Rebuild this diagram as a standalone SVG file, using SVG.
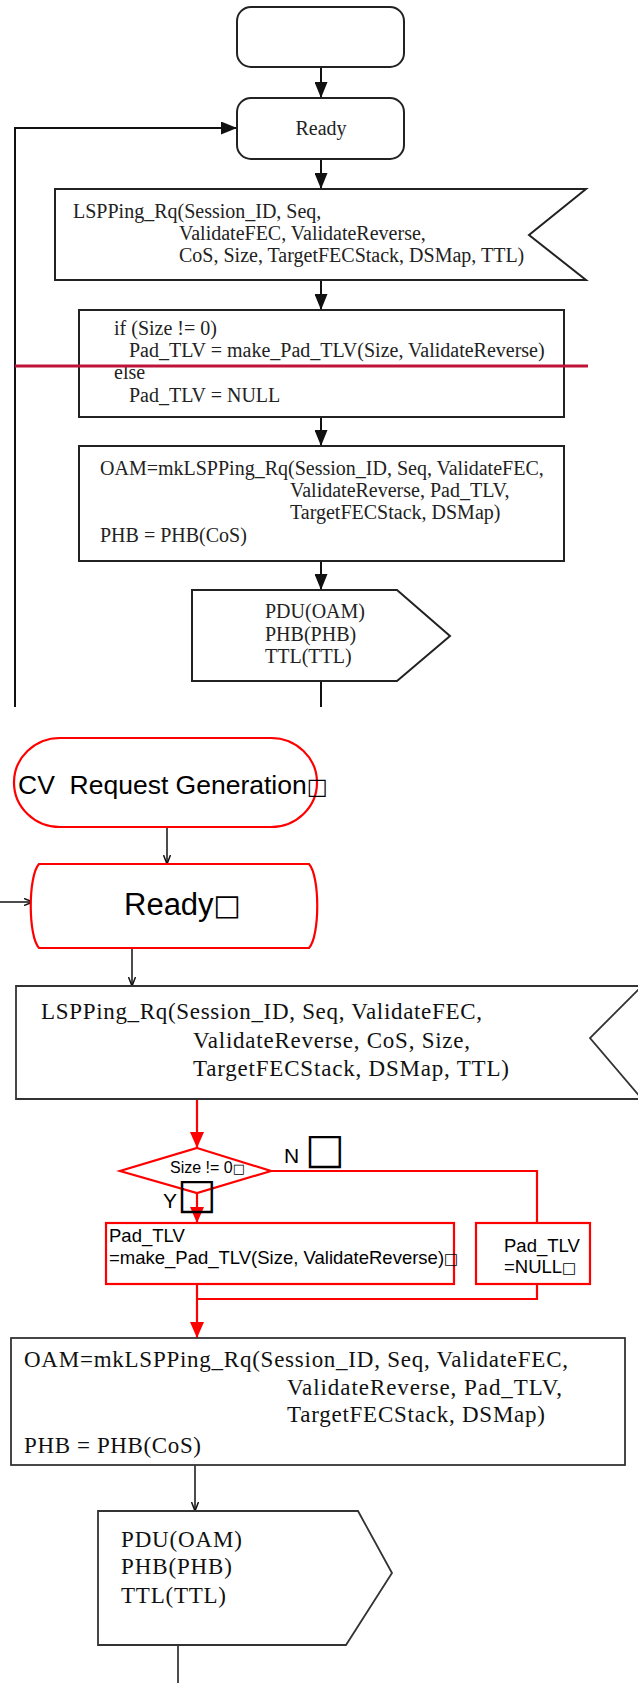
<svg xmlns="http://www.w3.org/2000/svg" width="638" height="1683" viewBox="0 0 638 1683">
<style>
.bk{fill:#fff;stroke:#222;stroke-width:2}
.bk2{fill:#fff;stroke:#333;stroke-width:1.8}
.rd{fill:#fff;stroke:#f00;stroke-width:2.2}
.ln{fill:none;stroke:#111;stroke-width:2}
.lt{fill:none;stroke:#111;stroke-width:1.5}
.lr{fill:none;stroke:#f00;stroke-width:2.2}
.t1{font-family:"Liberation Serif","Times New Roman",serif;font-size:20px;fill:#222}
.t2{font-family:"Liberation Serif","Times New Roman",serif;font-size:23px;fill:#111}
.s{font-family:"Liberation Sans",Arial,sans-serif;fill:#000;white-space:pre}
.sq{font-family:"DejaVu Sans",sans-serif}
</style>
<defs>
<marker id="ab" markerUnits="userSpaceOnUse" markerWidth="16" markerHeight="13" viewBox="0 0 16 13" refX="16" refY="6.5" orient="auto"><path d="M0,0 L16,6.5 L0,13 Z" fill="#111"/></marker>
<marker id="ar" markerUnits="userSpaceOnUse" markerWidth="16" markerHeight="14" viewBox="0 0 16 14" refX="16" refY="7" orient="auto"><path d="M0,0 L16,7 L0,14 Z" fill="#f00"/></marker>
<marker id="at" markerUnits="userSpaceOnUse" markerWidth="9" markerHeight="8" viewBox="0 0 9 8" refX="9" refY="4" orient="auto"><path d="M0,0.5 L9,4 L0,7.5" fill="none" stroke="#111" stroke-width="1.5"/></marker>
</defs>

<g id="connectors">
<line class="ln" x1="321" y1="67" x2="321" y2="98" marker-end="url(#ab)"/>
<line class="ln" x1="321" y1="159" x2="321" y2="189" marker-end="url(#ab)"/>
<line class="ln" x1="321" y1="280" x2="321" y2="310" marker-end="url(#ab)"/>
<line class="ln" x1="321" y1="417" x2="321" y2="446" marker-end="url(#ab)"/>
<line class="ln" x1="321" y1="561" x2="321" y2="590" marker-end="url(#ab)"/>
<line class="ln" x1="321" y1="681" x2="321" y2="707"/>
<polyline class="ln" points="15,707 15,128 237,128" marker-end="url(#ab)"/>

<line class="lt" x1="167" y1="827" x2="167" y2="864" marker-end="url(#at)"/>
<line class="lt" x1="0" y1="902" x2="33" y2="902" marker-end="url(#at)"/>
<line class="lt" x1="132" y1="948" x2="132" y2="986" marker-end="url(#at)"/>
<line class="lr" x1="197" y1="1099" x2="197" y2="1148" marker-end="url(#ar)"/>
<line class="lr" x1="197" y1="1193" x2="197" y2="1223" marker-end="url(#ar)"/>
<polyline class="lr" points="271,1171 537,1171 537,1223"/>
<line class="lr" x1="197" y1="1284" x2="197" y2="1338" marker-end="url(#ar)"/>
<polyline class="lr" points="537,1284 537,1299 197,1299"/>
<line class="lt" x1="195" y1="1465" x2="195" y2="1511" marker-end="url(#at)"/>
<line class="lt" x1="178" y1="1645" x2="178" y2="1683"/>
</g>

<g id="start1"><rect class="bk" x="237" y="7" width="167" height="60" rx="14"/></g>
<g id="ready1"><rect class="bk" x="237" y="98" width="167" height="61" rx="14"/>
<text class="t1" x="321" y="135" text-anchor="middle">Ready</text></g>
<g id="rq1"><polygon class="bk" points="55,189 586,189 529,235 586,280 55,280"/>
<text class="t1" x="73" y="218">LSPPing_Rq(Session_ID, Seq,</text>
<text class="t1" x="179" y="240">ValidateFEC, ValidateReverse,</text>
<text class="t1" x="179" y="262">CoS, Size, TargetFECStack, DSMap, TTL)</text></g>
<g id="if1"><rect class="bk" x="79" y="310" width="485" height="107"/>
<text class="t1" x="114" y="335">if (Size != 0)</text>
<text class="t1" x="129" y="357">Pad_TLV = make_Pad_TLV(Size, ValidateReverse)</text>
<text class="t1" x="114" y="379">else</text>
<text class="t1" x="129" y="402">Pad_TLV = NULL</text></g>
<g id="oam1"><rect class="bk" x="79" y="446" width="485" height="115"/>
<text class="t1" x="100" y="475">OAM=mkLSPPing_Rq(Session_ID, Seq, ValidateFEC,</text>
<text class="t1" x="290" y="497">ValidateReverse, Pad_TLV,</text>
<text class="t1" x="290" y="519">TargetFECStack, DSMap)</text>
<text class="t1" x="100" y="542">PHB = PHB(CoS)</text></g>
<g id="pdu1"><polygon class="bk" points="192,590 397,590 450,636 397,681 192,681"/>
<text class="t1" x="265" y="618">PDU(OAM)</text>
<text class="t1" x="265" y="641">PHB(PHB)</text>
<text class="t1" x="265" y="663">TTL(TTL)</text></g>

<g id="strike"><line x1="15" y1="366" x2="588" y2="366" stroke="#BE1238" stroke-width="3"/></g>

<g id="cvgen"><rect class="rd" x="14" y="738" width="303" height="89" rx="46" ry="44.5"/>
<text class="s" x="18" y="794" font-size="26.5">CV  Request Generation<tspan class="sq" font-size="22">□</tspan></text></g>
<g id="ready2"><path class="rd" d="M39,864 L309,864 C320,876 320,936 309,948 L39,948 C28,936 28,876 39,864 Z"/>
<text class="s" x="124" y="915" font-size="31">Ready<tspan class="sq" font-size="29">□</tspan></text></g>
<g id="rq2"><polygon class="bk2" points="16,986 642,986 590,1038 642,1099 16,1099"/>
<text class="t2" x="41" y="1019" textLength="441">LSPPing_Rq(Session_ID, Seq, ValidateFEC,</text>
<text class="t2" x="193" y="1048" textLength="277">ValidateReverse, CoS, Size,</text>
<text class="t2" x="193" y="1076" textLength="316">TargetFECStack, DSMap, TTL)</text></g>
<g id="decision"><polygon class="rd" points="197,1148 271,1171 197,1193 120,1171"/>
<text class="s" x="170" y="1173" font-size="16">Size != 0<tspan class="sq" font-size="13">□</tspan></text></g>
<g id="labelN"><text class="s" x="284" y="1163" font-size="21">N <tspan class="sq" font-size="42" font-weight="bold">□</tspan></text></g>
<g id="labelY"><text class="s" x="163" y="1208" font-size="21">Y<tspan class="sq" font-size="42" font-weight="bold">□</tspan></text></g>
<g id="padyes"><rect class="rd" x="106" y="1223" width="348" height="61"/>
<text class="s" x="109" y="1242" font-size="18.5">Pad_TLV</text>
<text class="s" x="109" y="1264" font-size="18.5">=make_Pad_TLV(Size, ValidateReverse)<tspan class="sq" font-size="15">□</tspan></text></g>
<g id="padno"><rect class="rd" x="476" y="1223" width="114" height="61"/>
<text class="s" x="504" y="1252" font-size="18.5">Pad_TLV</text>
<text class="s" x="504" y="1273" font-size="18.5">=NULL<tspan class="sq" font-size="15">□</tspan></text></g>
<g id="oam2"><rect class="bk2" x="11" y="1338" width="614" height="127"/>
<text class="t2" x="24" y="1367" textLength="544">OAM=mkLSPPing_Rq(Session_ID, Seq, ValidateFEC,</text>
<text class="t2" x="287" y="1395" textLength="275">ValidateReverse, Pad_TLV,</text>
<text class="t2" x="287" y="1422" textLength="258">TargetFECStack, DSMap)</text>
<text class="t2" x="24" y="1453" textLength="177">PHB = PHB(CoS)</text></g>
<g id="pdu2"><polygon class="bk2" points="98,1511 358,1511 392,1573 346,1645 98,1645"/>
<text class="t2" x="121" y="1547" textLength="121">PDU(OAM)</text>
<text class="t2" x="121" y="1574" textLength="111">PHB(PHB)</text>
<text class="t2" x="121" y="1603" textLength="105">TTL(TTL)</text></g>
</svg>
